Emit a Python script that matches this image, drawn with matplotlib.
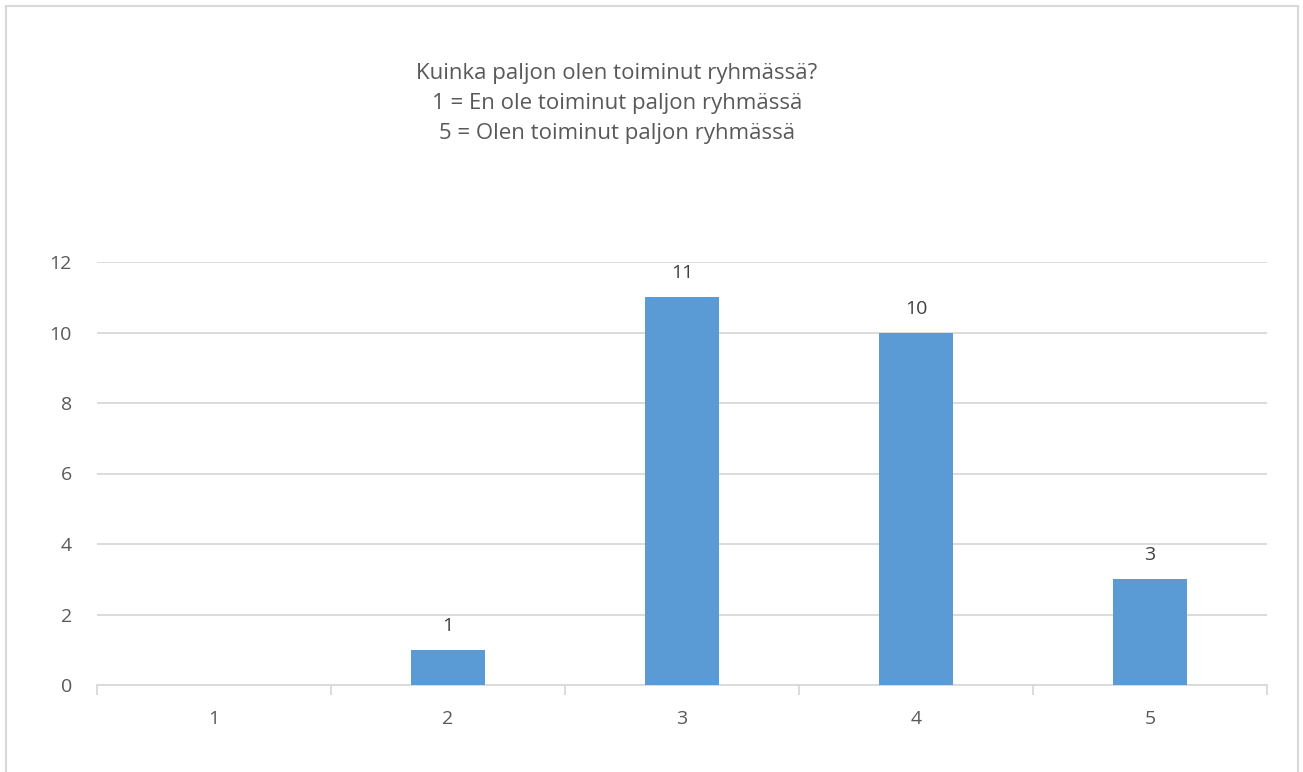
import matplotlib.pyplot as plt
from matplotlib.patches import Rectangle

categories = ['1', '2', '3', '4', '5']
counts = [0, 1, 11, 10, 3]
title_lines = ['Kuinka paljon olen toiminut ryhmässä?',
               '1 = En ole toiminut paljon ryhmässä',
               '5 = Olen toiminut paljon ryhmässä']

plt.rcParams['font.family'] = ['Open Sans', 'DejaVu Sans']
text_col = '#595959'
grid_col = '#d9d9d9'

W, H = 1303, 772
fig = plt.figure(figsize=(W / 100, H / 100), dpi=100)
ax = fig.add_axes([97 / W, 1 - 685 / H, (1267 - 97) / W, (685 - 262) / H])

# outer chart frame
fig.patches.append(Rectangle((6 / W, -0.01), (1298 - 6) / W, 1 - 6 / H + 0.01,
                             transform=fig.transFigure, fill=False,
                             edgecolor=grid_col, linewidth=1.5))

x = list(range(1, len(categories) + 1))
bars = ax.bar(x, counts, width=0.315, color='#5b9bd5', zorder=3)
for xi, v in zip(x, counts):
    if v > 0:
        ax.text(xi, v + 0.42, str(v), ha='center', va='bottom', fontsize=14, color='#404040')

ax.set_xlim(0.5, 5.5)
ax.set_ylim(0, 12)
ax.set_yticks(range(0, 13, 2))
ax.set_xticks(x)
ax.set_xticklabels(categories)
ax.yaxis.grid(True, color=grid_col, linewidth=1.3, zorder=0)
ax.set_axisbelow(True)

for s in ['top', 'right', 'left']:
    ax.spines[s].set_visible(False)
ax.spines['bottom'].set_color(grid_col)
ax.spines['bottom'].set_linewidth(1.3)

# category separator ticks on the x axis
ax.set_xticks([0.5 + i for i in range(6)], minor=True)
ax.tick_params(axis='x', which='minor', length=7, color=grid_col, width=1.3)
ax.tick_params(axis='x', which='major', length=0, pad=18, labelsize=14, labelcolor=text_col)
ax.tick_params(axis='y', length=0, pad=18, labelsize=14, labelcolor=text_col)

for i, line in enumerate(title_lines):
    fig.text(617 / W, 1 - (73 + 30 * i) / H, line, ha='center', va='center',
             fontsize=16, color=text_col)

fig.savefig('out.png', dpi=100)
